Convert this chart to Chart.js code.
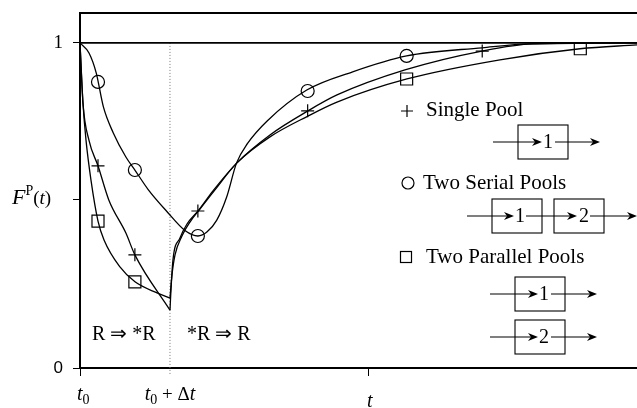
<!DOCTYPE html>
<html lang="en">
<head>
<meta charset="UTF-8">
<title>Pool response F^P(t)</title>
<script src="https://cdn.jsdelivr.net/npm/chart.js"></script>
<style>
  html, body { margin: 0; padding: 0; background: #fff; overflow: hidden; }
  .chart-container { width: 637px; height: 408px; }
</style>
</head>
<body>
<div class="chart-container"><canvas id="poolChart"></canvas></div>
<script>
// time in units of the pulse: t0 = 0, t0 + Δt = 1
const tMax = 6.19;
const yMax = 1.092;
const xTickMarks = [0, 3.21];
const yTickMarks = [0, 0.517, 1];
const pulseEnd = 1;

// two serial pools (smooth, minimum after the pulse)
const serialT = [0, 0.1, 0.18, 0.26, 0.37, 0.51, 0.61, 0.76, 0.97, 1.17, 1.31, 1.41, 1.52, 1.63, 1.74, 1.86, 2.08, 2.52, 3.03, 3.63, 4.47, 5.0, 6.19];
const serialF = [1.0, 0.969, 0.908, 0.803, 0.723, 0.649, 0.609, 0.548, 0.48, 0.422, 0.406, 0.418, 0.455, 0.526, 0.631, 0.69, 0.76, 0.855, 0.911, 0.96, 0.985, 0.997, 1.0];

// single pool, R => *R then *R => R
const singleDecayT = [0, 0.033, 0.1, 0.2, 0.32, 0.51, 0.61, 1.0];
const singleDecayF = [1.0, 0.815, 0.70, 0.622, 0.517, 0.415, 0.348, 0.178];
const singleRiseT = [1.0, 1.011, 1.033, 1.111, 1.189, 1.311, 1.478, 1.744, 2.111, 2.533, 2.856, 3.611, 4.467, 5.033, 6.19];
const singleRiseF = [0.178, 0.24, 0.332, 0.4, 0.443, 0.483, 0.545, 0.631, 0.717, 0.791, 0.84, 0.917, 0.975, 0.997, 1.0];

// two parallel pools
const parallelDecayT = [0, 0.033, 0.067, 0.122, 0.2, 0.267, 0.444, 0.611, 0.856, 1.0];
const parallelDecayF = [1.0, 0.815, 0.70, 0.578, 0.452, 0.394, 0.311, 0.265, 0.231, 0.215];
const parallelRiseT = [1.0, 1.022, 1.056, 1.133, 1.222, 1.333, 1.5, 1.744, 2.111, 2.533, 2.856, 3.633, 4.667, 5.556, 6.19];
const parallelRiseF = [0.215, 0.286, 0.348, 0.406, 0.449, 0.489, 0.548, 0.631, 0.711, 0.775, 0.818, 0.889, 0.948, 0.982, 0.994];

// marker positions
const serialMarkT = [0.2, 0.61, 1.31, 2.53, 3.63];
const serialMarkF = [0.88, 0.609, 0.406, 0.852, 0.96];
const singleMarkT = [0.2, 0.61, 1.31, 2.53, 4.47];
const singleMarkF = [0.622, 0.348, 0.483, 0.791, 0.975];
const parallelMarkT = [0.2, 0.61, 3.63, 5.56];
const parallelMarkF = [0.452, 0.265, 0.889, 0.982];

const toPoints = (xs, ys) => xs.map((x, i) => ({ x: x, y: ys[i] }));

const SERIF = '"Liberation Serif", "Times New Roman", serif';

function curve(xs, ys) {
    return {
        data: toPoints(xs, ys),
        showLine: true,
        borderColor: '#000',
        borderWidth: 1.3,
        pointRadius: 0,
        cubicInterpolationMode: 'monotone',
        fill: false
    };
}

function markers(xs, ys, style, radius) {
    return {
        data: toPoints(xs, ys),
        showLine: false,
        pointStyle: style,
        pointRadius: radius,
        pointBorderColor: '#000',
        pointBackgroundColor: 'rgba(0,0,0,0)',
        pointBorderWidth: 1.2
    };
}

function arrow(ctx, x1, x2, y) {
    ctx.beginPath();
    ctx.moveTo(x1, y);
    ctx.lineTo(x2 - 6, y);
    ctx.stroke();
    ctx.beginPath();
    ctx.moveTo(x2, y);
    ctx.lineTo(x2 - 10, y - 4);
    ctx.lineTo(x2 - 7, y);
    ctx.lineTo(x2 - 10, y + 4);
    ctx.closePath();
    ctx.fill();
}

function pool(ctx, x, yMid, label, labelX) {
    ctx.strokeRect(x, yMid - 17, 50, 34);
    ctx.fillText(label, labelX, yMid + 1);
}

// draws several runs of text one after another, returns width
function runs(ctx, parts, x, y, measureOnly) {
    let cx = x;
    parts.forEach(p => {
        ctx.font = p.font;
        if (!measureOnly) ctx.fillText(p.text, cx, y + (p.dy || 0));
        cx += ctx.measureText(p.text).width;
    });
    return cx - x;
}

const noPadding = scale => {
    scale.paddingTop = 0;
    scale.paddingBottom = 0;
    scale.paddingLeft = 0;
    scale.paddingRight = 0;
};

const annotations = {
    id: 'annotations',
    afterDraw(chart) {
        const ctx = chart.ctx;
        const xs = chart.scales.x;
        ctx.save();
        ctx.fillStyle = '#000';
        ctx.strokeStyle = '#000';
        ctx.textBaseline = 'alphabetic';
        ctx.textAlign = 'left';

        // y axis title F^P(t)
        runs(ctx, [
            { text: 'F', font: 'italic 22px ' + SERIF },
            { text: 'P', font: '14px ' + SERIF, dy: -9 },
            { text: '(', font: '19px ' + SERIF },
            { text: 't', font: 'italic 19px ' + SERIF },
            { text: ')', font: '19px ' + SERIF }
        ], 12, 204);

        // x axis labels
        const t0 = [
            { text: 't', font: 'italic 20px ' + SERIF },
            { text: '0', font: '14px ' + SERIF, dy: 4 }
        ];
        runs(ctx, t0, xs.getPixelForValue(0) - 3, 400);
        const t1 = t0.concat([
            { text: ' + Δ', font: '19px ' + SERIF },
            { text: 't', font: 'italic 20px ' + SERIF }
        ]);
        const w1 = runs(ctx, t1, 0, 0, true);
        runs(ctx, t1, xs.getPixelForValue(pulseEnd) - w1 / 2, 400);
        ctx.font = 'italic 20px ' + SERIF;
        ctx.textAlign = 'center';
        ctx.fillText('t', xs.getPixelForValue(xTickMarks[1]) + 1, 407);

        // phase labels
        ctx.textAlign = 'left';
        ctx.textBaseline = 'middle';
        ctx.font = '20px ' + SERIF;
        ctx.fillText('R ⇒ *R', 92, 335);
        ctx.fillText('*R ⇒ R', 187, 335);

        // legend
        ctx.lineWidth = 1.2;
        ctx.font = '21px ' + SERIF;
        ctx.fillText('Single Pool', 426, 110);
        ctx.fillText('Two Serial Pools', 423, 183);
        ctx.fillText('Two Parallel Pools', 426, 257);

        ctx.beginPath();
        ctx.moveTo(401, 111); ctx.lineTo(413, 111);
        ctx.moveTo(407, 105); ctx.lineTo(407, 117);
        ctx.stroke();
        ctx.beginPath();
        ctx.arc(408, 183, 6, 0, Math.PI * 2);
        ctx.stroke();
        ctx.strokeRect(400.5, 251.5, 11, 11);

        ctx.lineWidth = 1.1;
        ctx.font = '20px ' + SERIF;
        ctx.textAlign = 'center';

        // single pool diagram
        pool(ctx, 518, 142, '1', 548);
        arrow(ctx, 493, 542, 142);
        arrow(ctx, 555, 600, 142);

        // serial pools diagram
        pool(ctx, 492, 216, '1', 520);
        pool(ctx, 554, 216, '2', 584);
        arrow(ctx, 467, 514, 216);
        arrow(ctx, 526, 577, 216);
        arrow(ctx, 590, 637, 216);

        // parallel pools diagram
        pool(ctx, 515, 294, '1', 544);
        pool(ctx, 515, 337, '2', 544);
        arrow(ctx, 490, 538, 294);
        arrow(ctx, 551, 597, 294);
        arrow(ctx, 490, 538, 337);
        arrow(ctx, 551, 597, 337);

        ctx.restore();
    }
};

const ctx = document.getElementById('poolChart').getContext('2d');

new Chart(ctx, {
    type: 'scatter',
    data: {
        datasets: [
            curve(serialT, serialF),
            curve(singleDecayT, singleDecayF),
            curve(singleRiseT, singleRiseF),
            curve(parallelDecayT, parallelDecayF),
            curve(parallelRiseT, parallelRiseF),
            markers(serialMarkT, serialMarkF, 'circle', 6.5),
            markers(singleMarkT, singleMarkF, 'cross', 6.5),
            markers(parallelMarkT, parallelMarkF, 'rect', 8.5),
            {
                // F = 1 reference line
                data: [{ x: 0, y: 1 }, { x: tMax, y: 1 }],
                showLine: true,
                borderColor: '#000',
                borderWidth: 1.6,
                pointRadius: 0
            },
            {
                // end of the pulse, t0 + Δt
                data: [{ x: pulseEnd, y: 1 }, { x: pulseEnd, y: -0.022 }],
                showLine: true,
                borderColor: '#777',
                borderWidth: 1,
                borderDash: [1, 2],
                pointRadius: 0,
                clip: false
            }
        ]
    },
    options: {
        responsive: true,
        maintainAspectRatio: false,
        animation: false,
        layout: { padding: 0, autoPadding: false },
        plugins: {
            legend: { display: false },
            tooltip: { enabled: false }
        },
        scales: {
            x: {
                type: 'linear',
                position: 'bottom',
                min: 0,
                max: tMax,
                afterBuildTicks: scale => { scale.ticks = xTickMarks.map(v => ({ value: v })); },
                afterFit: scale => { scale.height = 40; noPadding(scale); },
                ticks: { display: false },
                grid: { drawOnChartArea: false, drawTicks: true, tickLength: 8, color: '#000', lineWidth: 1 },
                border: { display: true, color: '#000', width: 2 }
            },
            x2: {
                type: 'linear',
                position: 'top',
                min: 0,
                max: tMax,
                afterFit: scale => { scale.height = 13; noPadding(scale); },
                ticks: { display: false },
                grid: { drawOnChartArea: false, drawTicks: false },
                border: { display: true, color: '#000', width: 2 }
            },
            y: {
                type: 'linear',
                min: 0,
                max: yMax,
                afterBuildTicks: scale => { scale.ticks = yTickMarks.map(v => ({ value: v })); },
                afterFit: scale => { scale.width = 80; noPadding(scale); },
                ticks: {
                    color: '#000',
                    padding: 10,
                    callback: v => (v === 0 ? '0' : v === 1 ? '1' : ''),
                    font: c => (c.tick && c.tick.value === 0
                        ? { family: '"Liberation Sans", Arial, sans-serif', size: 17 }
                        : { family: SERIF, size: 19 })
                },
                grid: { drawOnChartArea: false, drawTicks: true, tickLength: 7, color: '#000', lineWidth: 1 },
                border: { display: true, color: '#000', width: 2 }
            }
        }
    },
    plugins: [annotations]
});
</script>
</body>
</html>
